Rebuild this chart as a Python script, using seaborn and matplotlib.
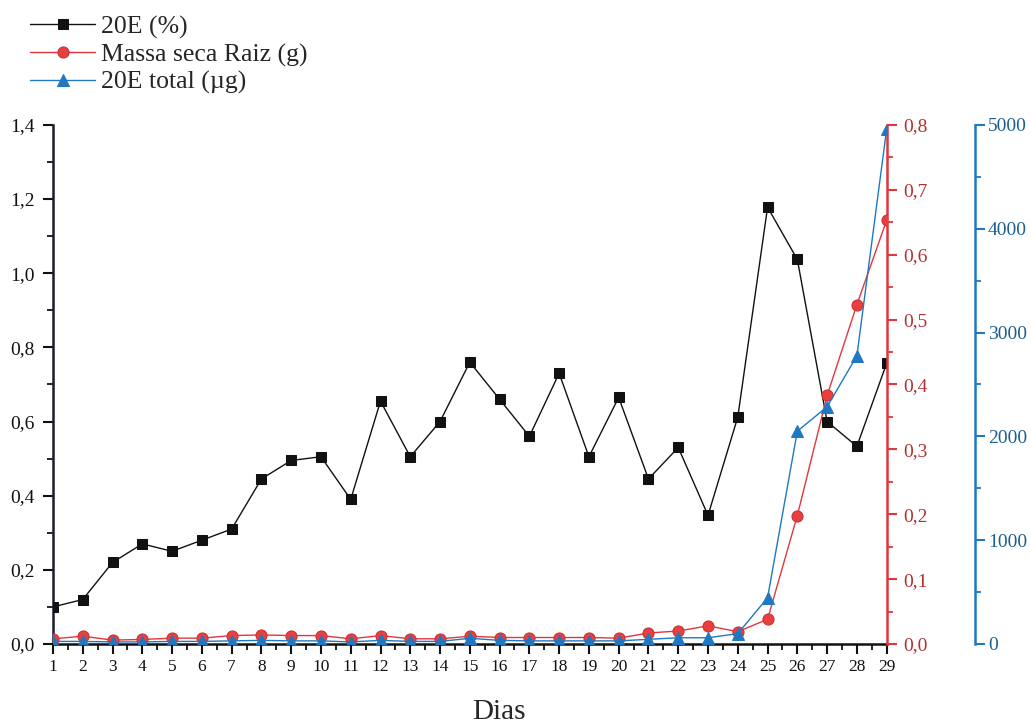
import numpy as np
import pandas as pd
import matplotlib
matplotlib.use("Agg")
import matplotlib.pyplot as plt
from matplotlib.ticker import MultipleLocator, FuncFormatter
import seaborn as sns

# Dias de cultivo
dias = list(range(1, 30))

# Teor de 20E (%)
teor_20e = [0.10, 0.12, 0.22, 0.27, 0.25, 0.28, 0.31, 0.445, 0.495, 0.505,
            0.39, 0.655, 0.505, 0.60, 0.76, 0.66, 0.56, 0.73, 0.505, 0.665,
            0.445, 0.53, 0.347, 0.612, 1.178, 1.037, 0.60, 0.533, 0.757]

# Massa seca da raiz (g)
massa_raiz = [0.008, 0.012, 0.006, 0.007, 0.009, 0.009, 0.013, 0.014, 0.013, 0.013,
              0.008, 0.013, 0.008, 0.008, 0.012, 0.010, 0.010, 0.010, 0.010, 0.009,
              0.017, 0.020, 0.028, 0.019, 0.038, 0.198, 0.383, 0.523, 0.653]

# 20E total (ug)
total_20e = [25, 25, 20, 20, 25, 25, 30, 35, 30, 30,
             20, 35, 25, 25, 55, 35, 30, 30, 30, 30,
             45, 60, 60, 100, 445, 2050, 2285, 2775, 4960]

df = pd.DataFrame({"Dias": dias, "pct": teor_20e, "massa": massa_raiz, "total": total_20e})

sns.set_style("white")
plt.rcParams["font.family"] = ["Liberation Serif", "DejaVu Serif"]

fig = plt.figure(figsize=(10.31, 7.24), dpi=100)
ax = fig.add_axes([0.0514, 0.1105, 0.8086, 0.717])
ax2 = ax.twinx()
ax3 = ax.twinx()
ax3.spines["right"].set_position(("outward", 63.4))

black = "#111111"
red = "#e0373c"
red_txt = "#b5302f"
blue = "#1f78c0"
blue_txt = "#1d5f8f"

sns.lineplot(data=df, x="Dias", y="pct", ax=ax, color=black, marker="s",
             markersize=7, markeredgecolor=black, linewidth=1.0,
             label="20E (%)", zorder=3)
sns.lineplot(data=df, x="Dias", y="massa", ax=ax2, color=red, marker="o",
             markersize=8, markeredgecolor="#c8303a", markerfacecolor="#e8403f",
             linewidth=1.0, label="Massa seca Raiz (g)", zorder=3)
sns.lineplot(data=df, x="Dias", y="total", ax=ax3, color=blue, marker="^",
             markersize=8.5, markeredgecolor=blue, linewidth=1.0,
             label="20E total (\u00b5g)", zorder=3)

comma = FuncFormatter(lambda v, p: f"{v:.1f}".replace(".", ","))

# Eixo principal (esquerda)
ax.set_xlim(1, 29)
ax.set_ylim(0, 1.4)
ax.xaxis.set_major_locator(MultipleLocator(1))
ax.xaxis.set_minor_locator(MultipleLocator(0.5))
ax.yaxis.set_major_locator(MultipleLocator(0.2))
ax.yaxis.set_minor_locator(MultipleLocator(0.1))
ax.yaxis.set_major_formatter(comma)
for s in ("top", "right"):
    ax.spines[s].set_visible(False)
ax.spines["left"].set_color("#1c1c2c")
ax.spines["bottom"].set_color(black)
ax.spines["left"].set_linewidth(1.8)
ax.spines["bottom"].set_linewidth(1.8)
ax.tick_params(axis="both", which="major", direction="out", length=7, width=1.5,
               colors=black, left=True, bottom=True)
ax.tick_params(axis="y", which="major", labelsize=14, pad=6)
ax.tick_params(axis="x", which="major", labelsize=12.5, pad=4)
ax.tick_params(axis="both", which="minor", direction="out", length=4, width=1.3,
               left=True, bottom=True, colors=black)
ax.set_xlabel("Dias", fontsize=21)
ax.xaxis.set_label_coords(0.535, -0.105)
ax.set_ylabel("")

# Eixo da massa seca (vermelho)
ax2.set_ylim(0, 0.8)
ax2.yaxis.set_major_locator(MultipleLocator(0.1))
ax2.yaxis.set_minor_locator(MultipleLocator(0.05))
ax2.yaxis.set_major_formatter(comma)
for s in ("top", "left", "bottom"):
    ax2.spines[s].set_visible(False)
ax2.spines["right"].set_color(red)
ax2.spines["right"].set_linewidth(1.8)
ax2.tick_params(axis="y", which="major", direction="out", length=7, width=1.5,
                labelsize=14, colors=red, labelcolor=red_txt, right=True, pad=5)
ax2.tick_params(axis="y", which="minor", direction="out", length=4, width=1.3,
                colors=red, right=True)
ax2.set_ylabel("")

# Eixo do 20E total (azul)
ax3.set_ylim(0, 5000)
ax3.yaxis.set_major_locator(MultipleLocator(1000))
ax3.yaxis.set_minor_locator(MultipleLocator(500))
for s in ("top", "left", "bottom"):
    ax3.spines[s].set_visible(False)
ax3.spines["right"].set_color(blue)
ax3.spines["right"].set_linewidth(1.8)
ax3.tick_params(axis="y", which="major", direction="out", length=7, width=1.5,
                labelsize=14, colors=blue, labelcolor=blue_txt, right=True, pad=2.5)
ax3.tick_params(axis="y", which="minor", direction="out", length=4, width=1.3,
                colors=blue, right=True)
ax3.set_ylabel("")

handles = []
labels = []
for a in (ax, ax2, ax3):
    h, l = a.get_legend_handles_labels()
    handles += h
    labels += l
    if a.get_legend() is not None:
        a.get_legend().remove()

fig.legend(handles, labels, loc="upper left", bbox_to_anchor=(0.014, 1.0),
           frameon=False, fontsize=18.5, handlelength=2.55, handletextpad=0.2,
           labelspacing=0.17, borderaxespad=0.2)

fig.savefig("out.png", dpi=100, facecolor="white")
